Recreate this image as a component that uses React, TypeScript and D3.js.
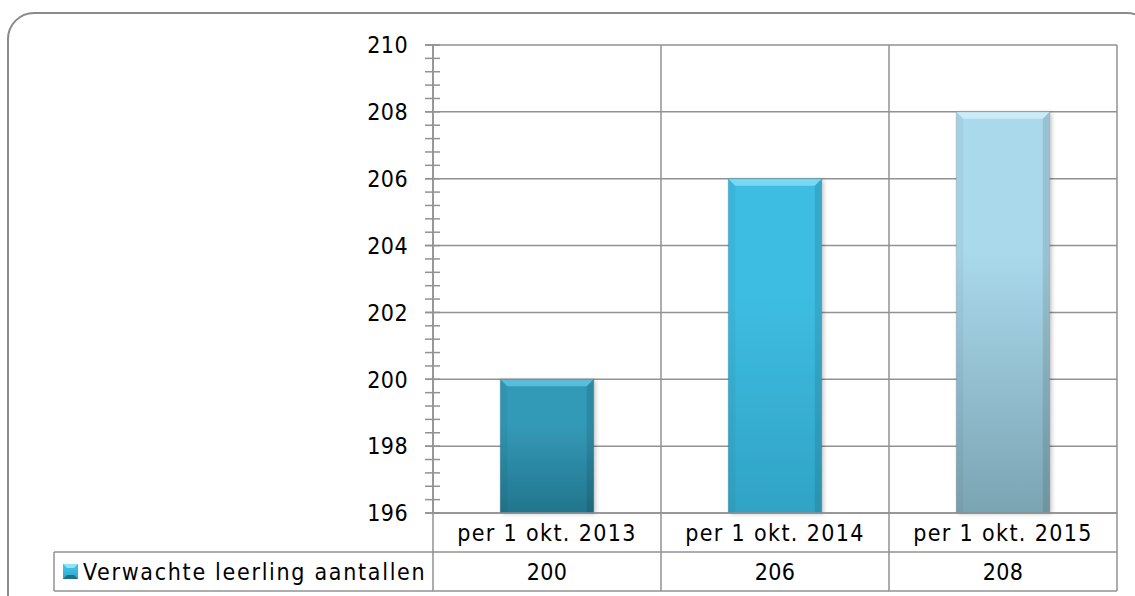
import React from "react";
import * as d3 from "d3";

const categories = ["per 1 okt. 2013", "per 1 okt. 2014", "per 1 okt. 2015"];
const values = [200, 206, 208];
const seriesName = "Verwachte leerling aantallen";
const yTicks = [196, 198, 200, 202, 204, 206, 208, 210];

const W = 1135;
const H = 596;
const plot = { left: 433, right: 1117, top: 45, bottom: 513 };
const rowH = 39;
const tableLeft = 54;
const font = "'DejaVu Sans Condensed', 'DejaVu Sans', sans-serif";
const grid = "#929292";

const barColors = [
  { top: "#3399b7", bottom: "#22758d", light: "#62c6e2" },
  { top: "#3ebde2", bottom: "#30a3c5", light: "#86e0f7" },
  { top: "#aad9ec", bottom: "#7ba4b3", light: "#d2f0f9" },
];

export default function App() {
  const y = d3.scaleLinear().domain([196, 210]).range([plot.bottom, plot.top]);
  const x = d3
    .scaleBand<string>()
    .domain(categories)
    .range([plot.left, plot.right])
    .paddingInner(0.59)
    .paddingOuter(0.295);
  const step = x.step();
  const minorTicks = d3.range(196, 210.001, 0.4).filter((v) => Math.abs(v / 2 - Math.round(v / 2)) > 0.01);
  const bounds = [plot.left, ...categories.map((c, i) => plot.left + step * (i + 1))];

  return (
    <svg width={W} height={H} style={{ position: "absolute", left: 0, top: 0 }} fontFamily={font}>
      <defs>
        {barColors.map((c, i) => (
          <linearGradient key={i} id={`g${i}`} x1="0" y1="0" x2="0" y2="1">
            <stop offset="0" stopColor={c.top} />
            <stop offset="0.35" stopColor={c.top} />
            <stop offset="1" stopColor={c.bottom} />
          </linearGradient>
        ))}
        <filter id="sh" x="-20%" y="-20%" width="140%" height="140%">
          <feDropShadow dx="2" dy="1" stdDeviation="2" floodColor="#000" floodOpacity="0.22" />
        </filter>
      </defs>
      <rect x={0} y={0} width={W} height={H} fill="#fff" />
      <rect x={8} y={13} width={1145} height={610} rx={26} ry={26} fill="#fff" stroke="#8a8a8a" strokeWidth={2} />

      {/* horizontal grid */}
      {yTicks.map((t) => (
        <line key={t} x1={plot.left - 8} x2={plot.right} y1={y(t)} y2={y(t)} stroke={grid} strokeWidth={1.5} />
      ))}
      {/* vertical category lines */}
      {bounds.map((bx, i) => (
        <line key={i} x1={bx} x2={bx} y1={plot.top} y2={plot.bottom + rowH * 2} stroke={grid} strokeWidth={1.5} />
      ))}
      {/* minor ticks */}
      {minorTicks.map((t, i) => (
        <line key={i} x1={plot.left - 8} x2={plot.left + 7} y1={y(t)} y2={y(t)} stroke={grid} strokeWidth={1.5} />
      ))}
      {yTicks.map((t) => (
        <line key={"mt" + t} x1={plot.left - 8} x2={plot.left + 7} y1={y(t)} y2={y(t)} stroke={grid} strokeWidth={1.5} />
      ))}
      {/* y labels */}
      {yTicks.map((t) => (
        <text key={"l" + t} x={408} y={y(t)} dy="0.36em" textAnchor="end" fontSize={23} letterSpacing={0.4} fill="#000">
          {t}
        </text>
      ))}

      {/* bars */}
      {categories.map((c, i) => {
        const bx = x(c)!;
        const bw = x.bandwidth();
        const by = y(values[i]);
        const bh = y(196) - by;
        const b = 7;
        const col = barColors[i];
        return (
          <g key={c}>
            <rect x={bx} y={by} width={bw} height={bh} fill={`url(#g${i})`} filter="url(#sh)" />
            <polygon
              points={`${bx},${by} ${bx + bw},${by} ${bx + bw - b},${by + b} ${bx + b},${by + b}`}
              fill={col.light}
              opacity={0.8}
            />
            <polygon
              points={`${bx},${by} ${bx + b},${by + b} ${bx + b},${by + bh} ${bx},${by + bh}`}
              fill="#000"
              opacity={0.04}
            />
            <polygon
              points={`${bx + bw},${by} ${bx + bw - b},${by + b} ${bx + bw - b},${by + bh} ${bx + bw},${by + bh}`}
              fill="#000"
              opacity={0.1}
            />
            <rect x={bx} y={by} width={bw} height={bh} fill="none" stroke="#000" strokeOpacity={0.12} strokeWidth={1} />
          </g>
        );
      })}

      {/* axis line */}
      <line x1={plot.left} x2={plot.left} y1={plot.top} y2={plot.bottom} stroke={grid} strokeWidth={1.5} />

      {/* table */}
      <line x1={plot.left} x2={plot.right} y1={plot.bottom} y2={plot.bottom} stroke={grid} strokeWidth={1.5} />
      <line x1={tableLeft} x2={plot.right} y1={plot.bottom + rowH} y2={plot.bottom + rowH} stroke={grid} strokeWidth={1.5} />
      <line x1={tableLeft} x2={plot.right} y1={plot.bottom + rowH * 2} y2={plot.bottom + rowH * 2} stroke={grid} strokeWidth={1.5} />
      <line x1={tableLeft} x2={tableLeft} y1={plot.bottom + rowH} y2={plot.bottom + rowH * 2} stroke={grid} strokeWidth={1.5} />
      {categories.map((c, i) => (
        <g key={"t" + c}>
          <text x={x(c)! + x.bandwidth() / 2} y={plot.bottom + rowH / 2} dy="0.36em" textAnchor="middle" fontSize={23} letterSpacing={1.35}>
            {c}
          </text>
          <text x={x(c)! + x.bandwidth() / 2} y={plot.bottom + rowH * 1.5} dy="0.36em" textAnchor="middle" fontSize={23} letterSpacing={0.4}>
            {values[i]}
          </text>
        </g>
      ))}
      {/* legend key */}
      <g>
        <rect x={63} y={564} width={15} height={15} fill="url(#g1)" />
        <polygon points="63,564 78,564 74,568 67,568" fill="#8fe3f7" />
        <polygon points="63,579 78,579 74,575 67,575" fill="#1f6f87" />
        <text x={83} y={plot.bottom + rowH * 1.5} dy="0.36em" fontSize={23} letterSpacing={1.7}>
          {seriesName}
        </text>
      </g>
    </svg>
  );
}
